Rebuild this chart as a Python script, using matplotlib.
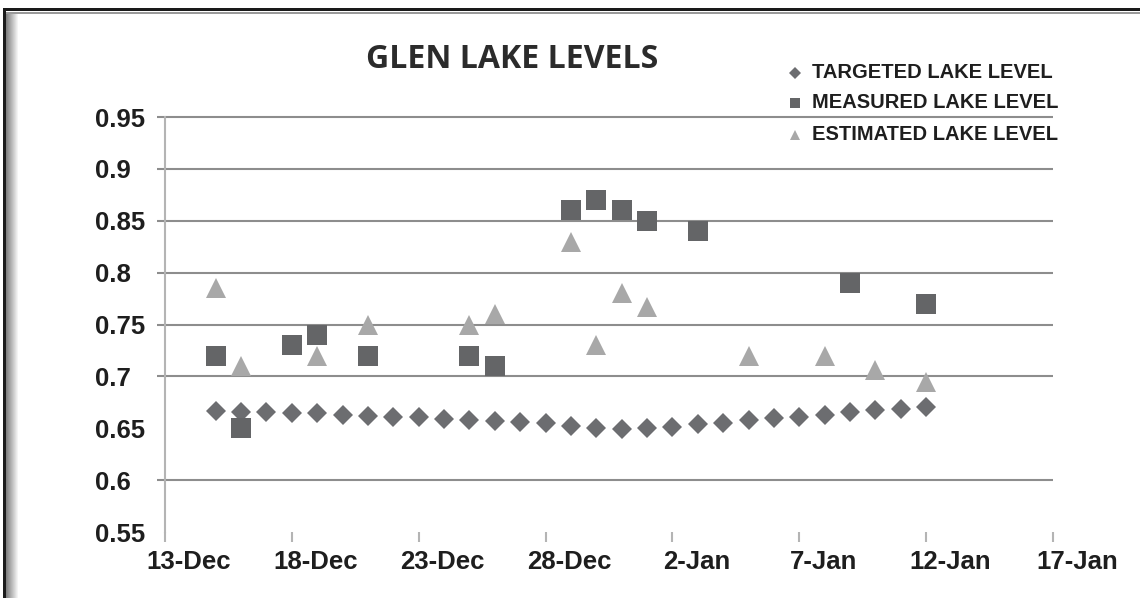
import matplotlib
matplotlib.use('Agg')
import matplotlib.pyplot as plt
import matplotlib.transforms as mtransforms
from matplotlib.lines import Line2D
from matplotlib.patches import Rectangle
import pandas as pd

######## DATA

# targeted level is one value per day, starting 15-Dec
targeted_start = '2012-12-15'
targeted_level = [0.667, 0.666, 0.666, 0.665, 0.6645, 0.663, 0.662, 0.661, 0.6605, 0.659,
                  0.658, 0.657, 0.656, 0.655, 0.652, 0.650, 0.649, 0.650, 0.6515, 0.654,
                  0.655, 0.658, 0.6595, 0.661, 0.663, 0.666, 0.6675, 0.669, 0.6705]

measured_dates = ['2012-12-15', '2012-12-16', '2012-12-18', '2012-12-19', '2012-12-21',
                  '2012-12-25', '2012-12-26', '2012-12-29', '2012-12-30', '2012-12-31',
                  '2013-01-01', '2013-01-03', '2013-01-09', '2013-01-12']
measured_level = [0.72, 0.65, 0.73, 0.74, 0.72, 0.72, 0.71, 0.86, 0.87, 0.86, 0.85, 0.84, 0.79, 0.77]

estimated_dates = ['2012-12-15', '2012-12-16', '2012-12-19', '2012-12-21', '2012-12-25',
                   '2012-12-26', '2012-12-29', '2012-12-30', '2012-12-31', '2013-01-01',
                   '2013-01-05', '2013-01-08', '2013-01-10', '2013-01-12']
estimated_level = [0.785, 0.71, 0.72, 0.75, 0.75, 0.76, 0.83, 0.73, 0.78, 0.767, 0.72, 0.72, 0.706, 0.695]

tick_dates = ['2012-12-13', '2012-12-18', '2012-12-23', '2012-12-28',
              '2013-01-02', '2013-01-07', '2013-01-12', '2013-01-17']
tick_labels = ['13-Dec', '18-Dec', '23-Dec', '28-Dec', '2-Jan', '7-Jan', '12-Jan', '17-Jan']

y_ticks = [0.55, 0.6, 0.65, 0.7, 0.75, 0.8, 0.85, 0.9, 0.95]
y_labels = ['0.55', '0.6', '0.65', '0.7', '0.75', '0.8', '0.85', '0.9', '0.95']
grid_levels = [0.6, 0.7, 0.75, 0.8, 0.85, 0.9, 0.95]

series_names = ['TARGETED LAKE LEVEL', 'MEASURED LAKE LEVEL', 'ESTIMATED LAKE LEVEL']

######## PLOT

W, H = 1140, 598
fig = plt.figure(figsize=(W / 100, H / 100), dpi=100)
fig.patch.set_facecolor('white')

def fx(px):
  return px / W

def fy(py):
  return 1 - py / H

ax = fig.add_axes([fx(165), fy(532), fx(1053) - fx(165), fy(117) - fy(532)])

diamond_col = '#6c6d70'
square_col = '#646567'
tri_col = '#a8a8a8'

targeted_dates = pd.date_range(targeted_start, periods=len(targeted_level), freq='D')

ax.plot(targeted_dates, targeted_level, linestyle='none', marker='D', markersize=9.8,
        color=diamond_col, markeredgewidth=0, zorder=3)
ax.plot(pd.to_datetime(measured_dates), measured_level, linestyle='none', marker='s',
        markersize=14, color=square_col, markeredgewidth=0, zorder=4)
ax.plot(pd.to_datetime(estimated_dates), estimated_level, linestyle='none', marker='^',
        markersize=14.5, color=tri_col, markeredgewidth=0, zorder=5)

ax.set_xlim(pd.Timestamp(tick_dates[0]), pd.Timestamp(tick_dates[-1]))
ax.set_ylim(0.55, 0.95)

# gridlines (with short outside tick on the left)
ax.hlines(grid_levels, -0.009, 1.0, transform=ax.get_yaxis_transform(),
          colors='#8d8d8d', linewidth=1.5, clip_on=False, zorder=1)

for s in ['top', 'right', 'bottom']:
  ax.spines[s].set_visible(False)
ax.spines['left'].set_color('#b4b4b4')
ax.spines['left'].set_linewidth(1.5)

ax.set_xticks(pd.to_datetime(tick_dates))
ax.set_xticklabels(tick_labels)
ax.tick_params(axis='x', direction='out', length=7.2, width=1.5, color='#b4b4b4',
               pad=6, labelsize=18.5, labelcolor='#1e1e1e')
offset = mtransforms.ScaledTranslation(0.24, 0, fig.dpi_scale_trans)
for lab in ax.get_xticklabels():
  lab.set_fontweight('bold')
  lab.set_fontfamily('Liberation Sans')
  lab.set_transform(lab.get_transform() + offset)

ax.set_yticks(y_ticks)
ax.set_yticklabels(y_labels)
ax.tick_params(axis='y', length=0, pad=50.4, labelsize=18.5, labelcolor='#1e1e1e')
for lab in ax.get_yticklabels():
  lab.set_fontweight('bold')
  lab.set_fontfamily('Liberation Sans')
  lab.set_horizontalalignment('left')

# title
fig.text(fx(512), fy(59), 'GLEN LAKE LEVELS', ha='center', va='center',
         fontsize=23, fontweight='bold', family='Open Sans', color='#2b2b2b')

# legend
leg_markers = [('D', 6.5, diamond_col), ('s', 7, square_col), ('^', 7, tri_col)]
leg_y = [73, 103, 135]
for (m, ms, c), name, yy in zip(leg_markers, series_names, leg_y):
  fig.add_artist(Line2D([fx(795)], [fy(yy)], marker=m, markersize=ms, color=c,
                        markeredgewidth=0, linestyle='none', transform=fig.transFigure))
  fig.text(fx(812), fy(yy), name, ha='left', va='center', fontsize=14.5,
           fontweight='bold', family='Liberation Sans', color='#1e1e1e')

# frame of the scanned page
fig.add_artist(Rectangle((fx(3), fy(11)), 1, 3 / H, transform=fig.transFigure,
                         color='#1a1a1a', lw=0))
fig.add_artist(Rectangle((fx(3), 0), 3 / W, fy(8), transform=fig.transFigure,
                         color='#1a1a1a', lw=0))
fig.add_artist(Rectangle((fx(6), fy(14)), 1, 2 / H, transform=fig.transFigure,
                         color='#9a9a9a', lw=0))
for i in range(12):
  g = 0.5 + 0.5 * i / 12
  fig.add_artist(Rectangle((fx(6 + i), 0), 1 / W, fy(14), transform=fig.transFigure,
                           color=(g, g, g), lw=0))

plt.savefig('out.png', dpi=100)
